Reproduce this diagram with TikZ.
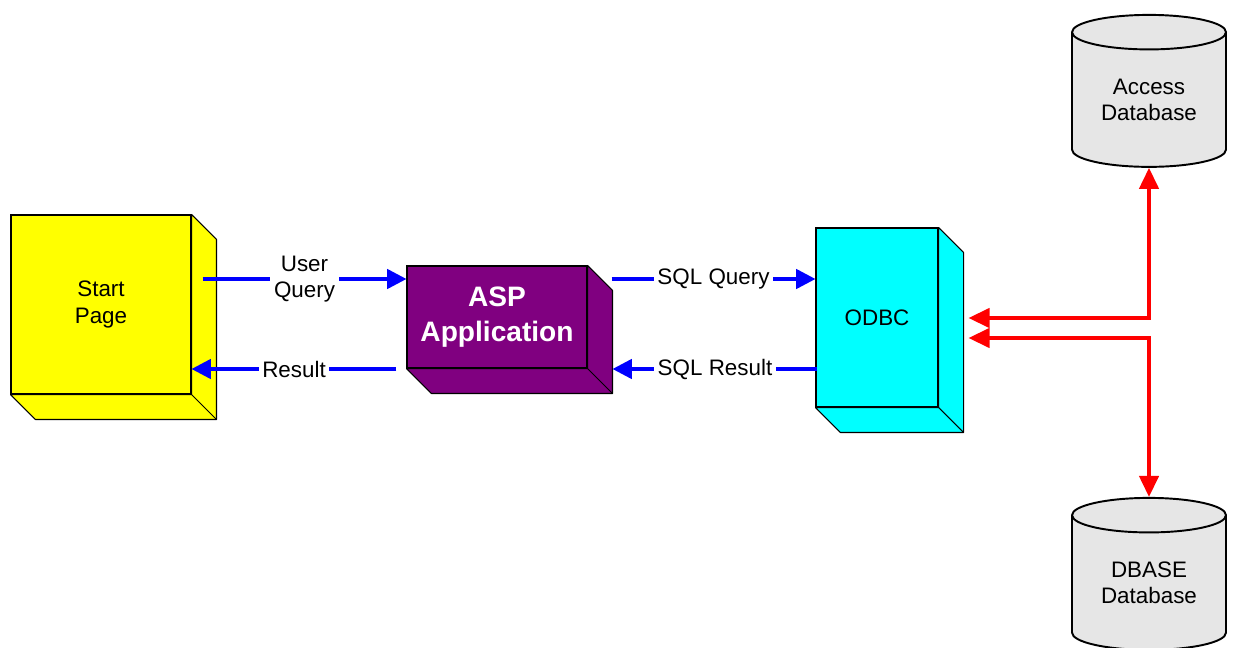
\documentclass[tikz,border=0pt]{standalone}
\usepackage{fontspec}
\setmainfont{Liberation Sans}
\usetikzlibrary{arrows.meta, calc, shapes.geometric, positioning}

\definecolor{pageyellow}{HTML}{FFFF00}
\definecolor{aspviolet}{HTML}{800080}
\definecolor{odbccyan}{HTML}{00FFFF}
\definecolor{dbgrey}{HTML}{E6E6E6}

\tikzset{
  block/.style={draw=black, line width=0.6pt, fill=#1, inner sep=0pt, align=center,
    font=\fontsize{12.75}{15}\selectfont},
  flow/.style={draw=blue, line width=2pt, -{Triangle[length=11pt,width=11pt]}},
  link/.style={draw=red, line width=2pt,
    {Triangle[length=12pt,width=11pt]}-{Triangle[length=12pt,width=11pt]}},
  tag/.style={fill=white, inner xsep=2pt, inner ysep=0pt, align=center,
    font=\fontsize{12.75}{15}\selectfont},
  store/.style={cylinder, shape border rotate=90, aspect=0.36, draw=black,
    line width=1.1pt, fill=dbgrey, align=center, inner sep=0pt,
    minimum width=3.08cm, minimum height=3.04cm,
    font=\fontsize{12.75}{15}\selectfont}
}

\begin{document}
\begin{tikzpicture}[x=0.02cm, y=-0.02cm, >=latex]
    \useasboundingbox (0,0) rectangle (1233,648);

    % boxes (front faces)
    \node[block=pageyellow, minimum width=3.6cm, minimum height=3.58cm] (start) at (101,304.5) {Start\\Page};
    \node[block=aspviolet, minimum width=3.6cm, minimum height=2.04cm, text=white,
          font=\fontsize{16}{19.5}\selectfont\bfseries] (asp) at (497,317) {ASP\\Application};
    \node[block=odbccyan, minimum width=2.44cm, minimum height=3.58cm] (odbc) at (877,317.5) {ODBC};

    % depth of the boxes
    \foreach \n/\c in {start/pageyellow, asp/aspviolet, odbc/odbccyan} {
        \filldraw[fill=\c, draw=black, line width=0.6pt, line join=round]
            (\n.north east) -- ++(25,25) -- ($(\n.south east)+(25,25)$)
            -- ($(\n.south west)+(25,25)$) -- (\n.south west) -- (\n.south east) -- cycle;
        \draw[line width=0.6pt] (\n.south east) -- ++(25,25);
    }

    % databases
    \node[store] (access) at (1149,100) {Access\\Database};
    \node[store] (dbase) at (1149,583) {DBASE\\Database};

    % blue flows
    \coordinate (upper) at (0,279);
    \coordinate (lower) at (0,369);
    \draw[flow] ($(start.east |- upper)+(11,0)$) -- node[tag] {User\\Query} (asp.west |- upper);
    \draw[flow] ($(asp.west |- lower)+(-10,0)$) -- node[tag] {Result} (start.east |- lower);
    \draw[flow] ($(asp.east |- upper)+(24,0)$) -- node[tag] {SQL Query} (odbc.west |- upper);
    \draw[flow] ($(odbc.west |- lower)+(2,0)$) -- node[tag] {SQL Result} ($(asp.east |- lower)+(25,0)$);

    % red links to the databases
    \coordinate (odbcup) at ($(odbc.east)+(30,0.5)$);
    \coordinate (odbcdown) at ($(odbc.east)+(30,20.5)$);
    \draw[link] (access.south) |- (odbcup);
    \draw[link] (dbase.north) |- (odbcdown);
\end{tikzpicture}
\end{document}
